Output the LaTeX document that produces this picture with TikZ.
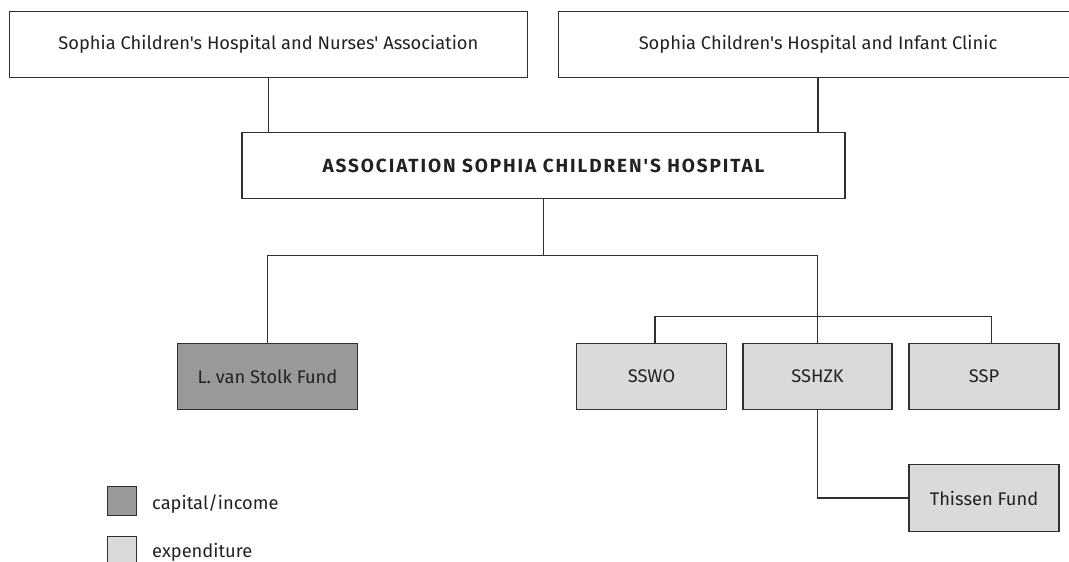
\documentclass[tikz,border=0pt]{standalone}
\font\rfont="Fira Sans" at 18.3pt
\font\bfont="Fira Sans/B:letterspace=10" at 19pt
\definecolor{dark}{HTML}{999999}
\definecolor{light}{HTML}{DADADA}
\definecolor{ink}{HTML}{222222}
\definecolor{edge}{HTML}{303030}
\begin{document}
\begin{tikzpicture}[x=1pt,y=-1pt,
  box/.style={draw=edge,line width=1.3pt,rectangle,inner sep=0pt,text=ink,font=\rfont},
  big/.style={box,minimum height=66.5pt},
  small/.style={box,minimum width=150pt,minimum height=66.5pt},
  capbox/.style={small,fill=dark},
  expbox/.style={small,fill=light},
  key/.style={draw=edge,line width=1.3pt,rectangle,inner sep=0pt,minimum size=29.5pt},
  keytext/.style={anchor=base west,inner sep=0pt,text=ink,font=\rfont},
  link/.style={draw=edge,line width=1.3pt}]
\useasboundingbox (0,0) rectangle (1069,562);
\clip (0,0) rectangle (1069,562);
\node[big,minimum width=518pt] (nurses) at (268.4,44.5) {Sophia Children's Hospital and Nurses' Association};
\node[big,minimum width=519pt] (infant) at (818,44.5) {Sophia Children's Hospital and Infant Clinic};
\node[big,minimum width=603pt,font=\bfont] (assoc) at (543.5,165.5) {ASSOCIATION SOPHIA CHILDREN'S HOSPITAL};
\node[capbox,minimum width=180.5pt] (stolk) at (267.5,376.5) {L. van Stolk Fund};
\node[expbox,minimum width=149.5pt] (sswo) at (651.5,376.5) {SSWO};
\node[expbox,minimum width=149pt] (sshzk) at (817.5,376.5) {SSHZK};
\node[expbox] (ssp) at (984,376.5) {SSP};
\node[expbox] (thissen) at (984,498) {Thissen Fund};
\node[key,fill=dark] (keycap) at (122,501) {};
\node[keytext] (keycapt) at (152,509) {capital/income};
\node[key,fill=light] (keyexp) at (122,551) {};
\node[keytext] (keyexpt) at (152,557) {expenditure};
\coordinate (bus) at (543.5,255.5);
\coordinate (subL) at (655,316.7);
\coordinate (subR) at (991.5,316.7);
\draw[link] (nurses.south) -- (nurses.south |- assoc.north);
\draw[link] (infant.south) -- (infant.south |- assoc.north);
\draw[link] (assoc.south) -- (bus);
\draw[link] (stolk.north) |- (bus) -| (sshzk.north);
\draw[link] (subL |- sswo.north) -- (subL) -- (subR) -- (subR |- ssp.north);
\draw[link] (sshzk.south) |- (thissen.west);
\end{tikzpicture}
\end{document}
